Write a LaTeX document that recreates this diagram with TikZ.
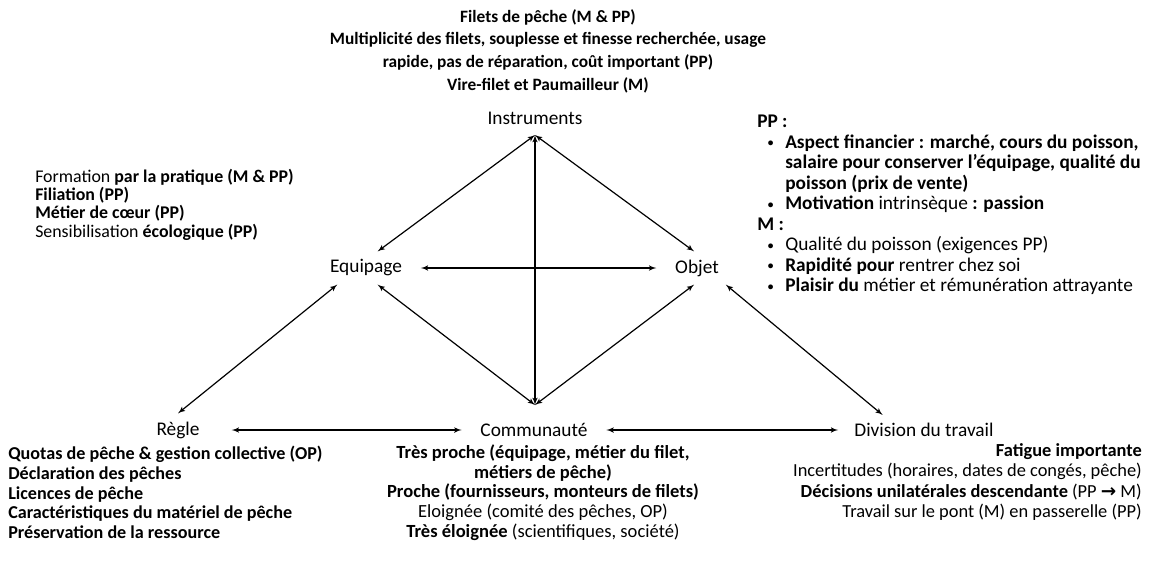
\documentclass[tikz,border=0pt]{standalone}
\usepackage{fontspec}
\setmainfont{Carlito}
\newfontfamily\symb{DejaVu Sans}
\usetikzlibrary{arrows}
\tikzset{
    concept/.style={font=\fontsize{14.5}{17}\selectfont, inner xsep=14pt, inner ysep=6pt},
    note/.style={font=\bfseries\fontsize{13}{17}\selectfont, inner sep=0pt},
    link/.style={<->,> = latex', draw=black, line width=0.9pt},
}
\newcommand{\rg}[1]{{\mdseries #1}}
\newcommand{\bul}{\hspace*{8pt}\makebox[13pt][l]{\raisebox{1.2pt}{\fontsize{8.5}{8.5}\selectfont\textbullet}}}
\newcommand{\ind}{\hspace*{21pt}}

\begin{document}
\begin{tikzpicture}[x=0.75pt, y=-0.75pt]
    \useasboundingbox (0,0) rectangle (1153,562);
    \node[concept] (instruments) at (535,118) {Instruments};
    \coordinate (top) at (535,135);
    \coordinate (bottom) at (535,405);
    \node[concept] (equipage) at (366,268) {Equipage};
    \node[concept] (objet) at (697,268) {Objet};
    \node[concept, inner xsep=24pt] (regle) at (178,430) {Règle};
    \node[concept] (communaute) at (534,430) {Communauté};
    \node[concept, inner xsep=12pt] (division) at (924,430) {Division du travail};
    \draw[link] (top) -- (equipage.55);
    \draw[link] (top) -- (objet.100);
    \draw[link] (top) -- (bottom);
    \draw[link] (bottom) -- (equipage.-55);
    \draw[link] (bottom) -- (objet.-100);
    \draw[link] (equipage) -- (objet);
    \draw[link] (regle.north) -- (equipage.210);
    \draw[link] (regle) -- (communaute);
    \draw[link] (communaute) -- (division);
    \draw[link] (objet.-30) -- (division.160);
    % texts round the triangle
    \node[note, align=center] (tools) at (548,51) {Filets de pêche (M \& PP)\\Multiplicité des filets, souplesse et finesse recherchée, usage\\rapide, pas de réparation, coût important (PP)\\Vire-filet et Paumailleur (M)};
    \node[note, align=left, anchor=west, font=\bfseries\fontsize{13.4}{13.7}\selectfont] (crew) at (35,204.5) {\rg{Formation} par la pratique (M \& PP)\\Filiation (PP)\\Métier de cœur (PP)\\\rg{Sensibilisation} écologique (PP)};
    \node[note, align=left, anchor=west, font=\bfseries\fontsize{14.5}{15.4}\selectfont] (goal) at (757,205) {PP :\\
        \bul Aspect financier : marché, cours du poisson,\\
        \ind salaire pour conserver l’équipage, qualité du\\
        \ind poisson (prix de vente)\\
        \bul Motivation \rg{intrinsèque} : passion\\
        M :\\
        \bul \rg{Qualité du poisson (exigences PP)}\\
        \bul Rapidité pour \rg{rentrer chez soi}\\
        \bul Plaisir du \rg{métier et rémunération attrayante}};
    \node[note, align=left, anchor=west, font=\bfseries\fontsize{13.6}{14.8}\selectfont] (rules) at (8,492.5) {Quotas de pêche \& gestion collective (OP)\\Déclaration des pêches\\Licences de pêche\\Caractéristiques du matériel de pêche\\Préservation de la ressource};
    \node[note, align=center, font=\bfseries\fontsize{13.9}{14.8}\selectfont] (people) at (543,492.5) {Très proche (équipage, métier du filet,\\métiers de pêche)\\Proche (fournisseurs, monteurs de filets)\\\rg{Eloignée (comité des pêches, OP)}\\Très éloignée \rg{(scientifiques, société)}};
    \node[note, align=right, anchor=east, font=\bfseries\fontsize{13.8}{15.4}\selectfont] (work) at (1142,482) {Fatigue importante\\\rg{Incertitudes (horaires, dates de congés, pêche)}\\Décisions unilatérales descendante \rg{(PP {\symb\bfseries →} M)}\\\rg{Travail sur le pont (M) en passerelle (PP)}};
\end{tikzpicture}
\end{document}
